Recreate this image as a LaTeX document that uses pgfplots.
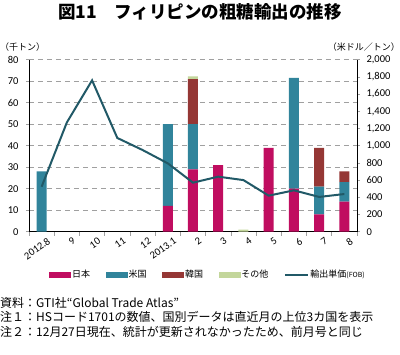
\documentclass[border=0pt]{standalone}
\usepackage{pgfplots}
\usepackage{pgfplotstable}
\pgfplotsset{compat=1.18}
\usepackage{fontspec}
\setmainfont{Noto Sans CJK JP}
\newfontfamily\numfont{Carlito}
\definecolor{jp}{HTML}{C00D60}
\definecolor{us}{HTML}{31849B}
\definecolor{kr}{HTML}{953735}
\definecolor{ot}{HTML}{C3D69B}
\definecolor{ln}{HTML}{215967}
\definecolor{gr}{HTML}{A0A0A0}
\pgfplotstableread{
x jp us kr ot
0 0 28 0 0
1 0 0 0 0
2 0 0 0 0
3 0 0 0 0
4 0 0 0 0
5 12 38 0 0
6 29 21 21 1.2
7 31 0 0 0
8 0 0 0 1
9 39 0 0 0
10 20 51.5 0 0
11 8 13 18 0
12 14 9 5 0
}\bars
\pgfplotstableread{
x price
0 523
1 1270
2 1760
3 1090
4 950
5 795
6 570
7 640
8 600
9 419
10 481
11 404
12 438
}\price
\begin{document}
\begin{tikzpicture}[x=1pt,y=1pt]
\begin{axis}[
  at={(0,0)}, anchor=south west,
  scale only axis, width=328pt, height=172pt,
  xmin=-0.5, xmax=12.5, ymin=0, ymax=80,
  ybar stacked, bar width=10pt,
  axis y line*=left, axis x line*=bottom,
  axis line style={gr, line width=0.6pt},
  every outer y axis line/.style={-}, every outer x axis line/.style={-},
  ytick={0,10,...,80},
  ymajorgrids, major grid style={gr, line width=0.6pt, dash pattern=on 5pt off 4pt},
  tick align=outside, tick style={gr, line width=0.6pt},
  major tick length=3pt, minor tick length=4pt,
  xtick={0,...,12},
  xticklabels={2012.8,9,10,11,12,2013.1,2,3,4,5,6,7,8},
  major x tick style={draw=none},
  minor xtick={-0.5,0.5,...,12.5},
  x tick label style={rotate=35, anchor=north east, font=\numfont\fontsize{10.5}{11}\selectfont, inner sep=1pt, yshift=-4pt, xshift=4pt},
  y tick label style={font=\numfont\fontsize{10.5}{11}\selectfont, xshift=-4pt},
  /pgf/number format/assume math mode=true,
  clip=false,
]
\addplot[fill=jp, draw=none] table[x=x,y=jp] {\bars};
\addplot[fill=us, draw=none] table[x=x,y=us] {\bars};
\addplot[fill=kr, draw=none] table[x=x,y=kr] {\bars};
\addplot[fill=ot, draw=none] table[x=x,y=ot] {\bars};
\end{axis}
\begin{axis}[
  at={(0,0)}, anchor=south west,
  scale only axis, width=328pt, height=172pt,
  xmin=-0.5, xmax=12.5, ymin=0, ymax=2000,
  axis y line*=right, axis x line=none,
  axis line style={gr, line width=0.6pt},
  every outer y axis line/.style={-},
  ytick={0,200,...,2000},
  tick align=outside, tick style={gr, line width=0.6pt}, major tick length=3pt,
  y tick label style={font=\numfont\fontsize{10.5}{11}\selectfont, xshift=3pt},
  /pgf/number format/assume math mode=true,
  /pgf/number format/1000 sep={,},
  clip=false,
  legend columns=5,
  legend style={at={(0.545,-0.25)}, anchor=center, draw=none, fill=none,
    font=\fontsize{9}{10}\selectfont, inner sep=0pt,
    nodes={inner sep=1.5pt},
    /tikz/every odd column/.append style={column sep=0pt},
    /tikz/every even column/.append style={column sep=14pt}},
]
\addlegendimage{legend image code/.code={\fill[jp] (0pt,-2.5pt) rectangle (21pt,2.5pt);}}
\addlegendentry{日本}
\addlegendimage{legend image code/.code={\fill[us] (0pt,-2.5pt) rectangle (21pt,2.5pt);}}
\addlegendentry{米国}
\addlegendimage{legend image code/.code={\fill[kr] (0pt,-2.5pt) rectangle (21pt,2.5pt);}}
\addlegendentry{韓国}
\addlegendimage{legend image code/.code={\fill[ot] (0pt,-2.5pt) rectangle (21pt,2.5pt);}}
\addlegendentry{その他}
\addplot[ln, line width=2pt, legend image code/.code={\draw[ln, line width=2pt] (0pt,0pt) -- (23pt,0pt);}] table[x=x,y=price] {\price};
\addlegendentry{輸出単価{\fontsize{7}{8}\selectfont(FOB)}}
\end{axis}
\node[anchor=center, font=\bfseries\fontsize{17.5}{19}\selectfont] at (171pt,219.5pt) {図11\hspace{1em}フィリピンの粗糖輸出の推移};
\node[anchor=west, inner sep=0pt, font=\fontsize{9}{10}\selectfont] at (-29pt,185pt) {（千トン）};
\node[anchor=east, inner sep=0pt, font=\fontsize{9}{10}\selectfont] at (371pt,185pt) {（米ドル／トン）};
\node[anchor=west, inner sep=0pt, font=\fontsize{12}{13}\selectfont] at (-29pt,-71pt) {資料：GTI社“Global Trade Atlas”};
\node[anchor=west, inner sep=0pt, font=\fontsize{12}{13}\selectfont] at (-29pt,-85.5pt) {注１：HSコード1701の数値、国別データは直近月の上位3カ国を表示};
\node[anchor=west, inner sep=0pt, font=\fontsize{12}{13}\selectfont] at (-29pt,-100pt) {注２：12月27日現在、統計が更新されなかったため、前月号と同じ};
\pgfresetboundingbox
\useasboundingbox (-29pt,-123.3pt) rectangle (371pt,231.7pt);
\end{tikzpicture}
\end{document}
